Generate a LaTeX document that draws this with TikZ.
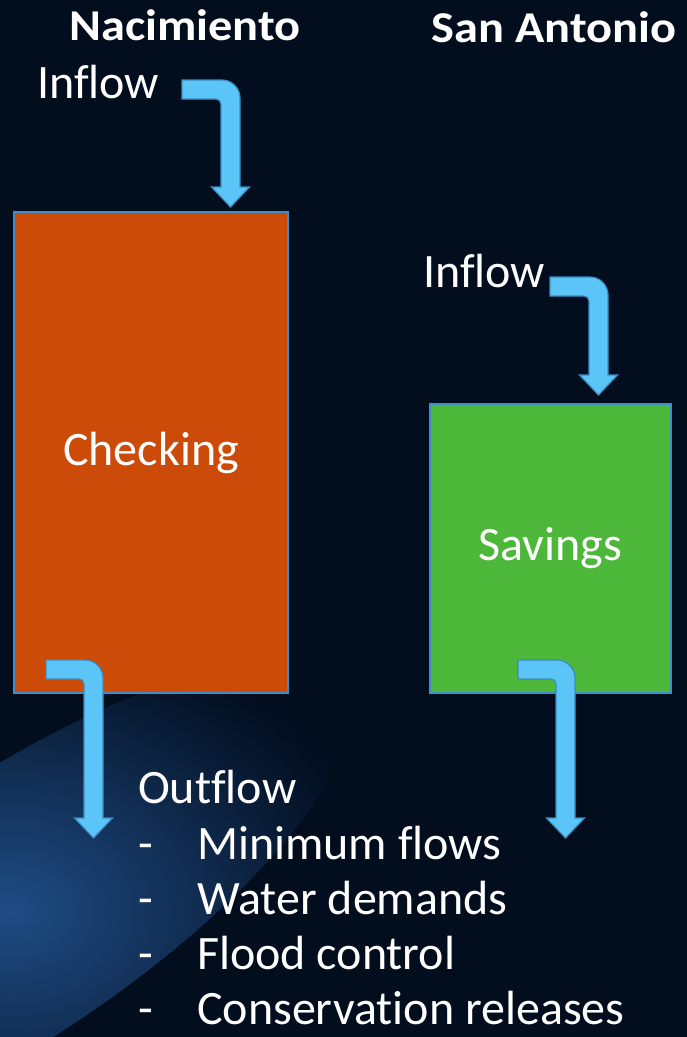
\documentclass[tikz,border=0pt]{standalone}
\usepackage{fontspec}
\setmainfont{Carlito}[Ligatures=NoCommon]
\newfontfamily\headfont{Carlito}[FakeStretch=1.1, Ligatures=NoCommon]
\usetikzlibrary{positioning}

\definecolor{bgnavy}{HTML}{020D1E}
\definecolor{glowblue}{HTML}{1F4C84}
\definecolor{chkorange}{HTML}{CD4B09}
\definecolor{savgreen}{HTML}{4DB739}
\definecolor{tankline}{HTML}{3E8DC8}
\definecolor{flowblue}{HTML}{5BC5F7}
\definecolor{flowedge}{HTML}{3A8BC2}

\tikzset{
    tank/.style={draw=tankline, line width=1.5pt, text=white, font=\fontsize{48}{56}\selectfont},
    label/.style={text=white, inner sep=0pt, font=\fontsize{48}{56}\selectfont},
    title/.style={text=white, inner sep=0pt, font=\headfont\bfseries\fontsize{44}{52}\selectfont},
    flow/.style={fill=flowblue, draw=flowedge, line width=1.2pt}
}

% bent flow arrow: start of the bar, length of the bar, drop to the tip
\newcommand{\flowarrow}[3]{%
    \filldraw[flow, shift={(#1)}]
        (0,0) -- ({#2-18},0) arc[start angle=-90, end angle=0, radius=18]
        -- (#2,{#3-20}) -- ({#2+9.5},{#3-20}) -- ({#2-9.5},#3)
        -- ({#2-28.5},{#3-20}) -- ({#2-19},{#3-20}) -- ({#2-19},24)
        arc[start angle=0, end angle=-90, radius=5] -- (0,19) -- cycle;
}

\begin{document}
\begin{tikzpicture}[x=1pt, y=1pt, yscale=-1]
    \useasboundingbox (0,0) rectangle (687,1037);

    % Background
    \fill[bgnavy] (0,0) rectangle (687,1037);
    \begin{scope}
        \clip (0,0) rectangle (687,1037);
        \shade[inner color=glowblue, outer color=bgnavy, shift={(10,910)}, rotate=-34] (0,0) ellipse [x radius=400, y radius=130];
    \end{scope}

    % Define the positions of the arrows
    \coordinate (chkInPos) at (182,80);
    \coordinate (savInPos) at (550,277);
    \coordinate (chkOutPos) at (46,660);
    \coordinate (savOutPos) at (518,660);

    % Draw the reservoirs
    \node[title, anchor=base] (nacTitle) at (185,40) {Nacimiento};
    \node[title, anchor=base] (sanTitle) at (554,42) {San Antonio};
    \node[tank, fill=chkorange, minimum width=274pt, minimum height=481pt] (checking) at (151,452.5) {Checking};
    \node[tank, fill=savgreen, minimum width=241pt, minimum height=289pt] (savings) at (550.5,548.5) {Savings};

    % Draw the flows
    \node[label, anchor=base west] (chkIn) at (37,98) {Inflow};
    \node[label, anchor=base west] (savIn) at (423,287) {Inflow};
    \flowarrow{chkInPos}{58}{127}
    \flowarrow{savInPos}{58}{118}
    \flowarrow{chkOutPos}{57}{178}
    \flowarrow{savOutPos}{57}{178}

    % Outflow list
    \node[label, anchor=base west] (outflow) at (138,803) {Outflow};
    \foreach \txt [count=\i] in {Minimum flows, Water demands, Flood control, Conservation releases} {
        \node[label, anchor=base west] (dash\i) at (138,{859+55*(\i-1)}) {-};
        \node[label, anchor=base west] (use\i) at (197,{859+55*(\i-1)}) {\txt};
    }
\end{tikzpicture}
\end{document}
